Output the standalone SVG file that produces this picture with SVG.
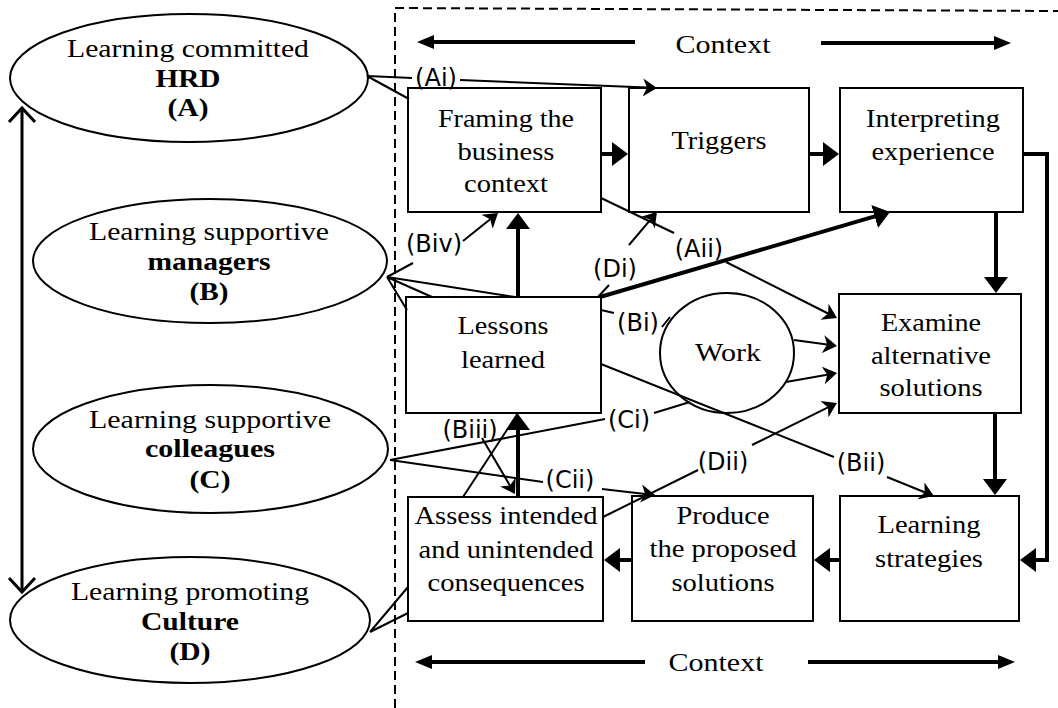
<svg xmlns="http://www.w3.org/2000/svg" width="1058" height="708" viewBox="0 0 1058 708">
<style>
.box{fill:#fff;stroke:#000;stroke-width:2}
.ell{fill:#fff;stroke:#000;stroke-width:2}
.t{font-family:"Liberation Serif","Times New Roman",serif;font-size:26px;fill:#000;text-anchor:middle}
.b{font-weight:bold}
.lb{font-family:"DejaVu Sans","Liberation Sans",sans-serif;font-size:24px;fill:#000;text-anchor:middle}
.thin{fill:none;stroke:#000;stroke-width:2}
.thick{fill:none;stroke:#000;stroke-width:4}
.ah{marker-end:url(#stealth)}
.th{marker-end:url(#tri)}
</style>
<defs>
<marker id="stealth" viewBox="0 -10 16 20" markerWidth="16" markerHeight="20" refX="4" refY="0" orient="auto" markerUnits="userSpaceOnUse"><path d="M0,-9 L14,0 L0,9 L4,0 z" fill="#000"/></marker>
<marker id="tri" viewBox="0 -13 17 26" markerWidth="17" markerHeight="26" refX="1" refY="0" orient="auto" markerUnits="userSpaceOnUse"><path d="M0,-12 L16,0 L0,12 z" fill="#000"/></marker>
<marker id="ctx" viewBox="0 -8 18 16" markerWidth="18" markerHeight="16" refX="1" refY="0" orient="auto" markerUnits="userSpaceOnUse"><path d="M0,-7 L17,0 L0,7 z" fill="#000"/></marker>
<marker id="chev" viewBox="-17 -16 20 32" markerWidth="20" markerHeight="32" refX="0" refY="0" orient="auto-start-reverse" markerUnits="userSpaceOnUse"><path d="M-14,-13 L0,0 L-14,13" fill="none" stroke="#000" stroke-width="3"/></marker>
</defs>
<rect width="1058" height="708" fill="#fff"/>

<g id="context-frame">
<path d="M395,708 L395,8 L1058,11" fill="none" stroke="#000" stroke-width="2" stroke-dasharray="9,5"/>
<path d="M635,42 H433" class="thick" marker-end="url(#ctx)"/>
<path d="M821,43 H995" class="thick" marker-end="url(#ctx)"/>
<text class="t" x="723" y="53" textLength="95" lengthAdjust="spacingAndGlyphs">Context</text>
<path d="M645,662 H431" class="thick" marker-end="url(#ctx)"/>
<path d="M808,662 H999" class="thick" marker-end="url(#ctx)"/>
<text class="t" x="716" y="671" textLength="95" lengthAdjust="spacingAndGlyphs">Context</text>
</g>

<g id="hrd">
<ellipse class="ell" cx="189" cy="78" rx="179" ry="64"/>
<text class="t" x="188" y="57" textLength="242" lengthAdjust="spacingAndGlyphs">Learning committed</text>
<text class="t b" x="188" y="87" textLength="65" lengthAdjust="spacingAndGlyphs">HRD</text>
<text class="t b" x="188" y="116" textLength="41" lengthAdjust="spacingAndGlyphs">(A)</text>
</g>
<g id="managers">
<ellipse class="ell" cx="210" cy="261" rx="177" ry="62"/>
<text class="t" x="209" y="240" textLength="240" lengthAdjust="spacingAndGlyphs">Learning supportive</text>
<text class="t b" x="209" y="270" textLength="123" lengthAdjust="spacingAndGlyphs">managers</text>
<text class="t b" x="209" y="300" textLength="39" lengthAdjust="spacingAndGlyphs">(B)</text>
</g>
<g id="colleagues">
<ellipse class="ell" cx="210.5" cy="449" rx="177.5" ry="64"/>
<text class="t" x="210" y="428" textLength="242" lengthAdjust="spacingAndGlyphs">Learning supportive</text>
<text class="t b" x="210" y="457" textLength="130" lengthAdjust="spacingAndGlyphs">colleagues</text>
<text class="t b" x="210" y="488" textLength="41" lengthAdjust="spacingAndGlyphs">(C)</text>
</g>
<g id="culture">
<ellipse class="ell" cx="190" cy="620" rx="180" ry="63"/>
<text class="t" x="190" y="600" textLength="238" lengthAdjust="spacingAndGlyphs">Learning promoting</text>
<text class="t b" x="190" y="630" textLength="98" lengthAdjust="spacingAndGlyphs">Culture</text>
<text class="t b" x="190" y="660" textLength="41" lengthAdjust="spacingAndGlyphs">(D)</text>
</g>

<g id="framing">
<rect class="box" x="408" y="88" width="193" height="124"/>
<text class="t" x="506" y="127" textLength="136" lengthAdjust="spacingAndGlyphs">Framing the</text>
<text class="t" x="506" y="159.5" textLength="97" lengthAdjust="spacingAndGlyphs">business</text>
<text class="t" x="506" y="192" textLength="84" lengthAdjust="spacingAndGlyphs">context</text>
</g>
<g id="triggers">
<rect class="box" x="629" y="88" width="180" height="124"/>
<text class="t" x="719" y="149" textLength="95" lengthAdjust="spacingAndGlyphs">Triggers</text>
</g>
<g id="interpreting">
<rect class="box" x="840" y="88" width="183" height="124"/>
<text class="t" x="933" y="127" textLength="134" lengthAdjust="spacingAndGlyphs">Interpreting</text>
<text class="t" x="933" y="159.5" textLength="123" lengthAdjust="spacingAndGlyphs">experience</text>
</g>
<g id="lessons">
<rect class="box" x="406" y="297" width="195" height="116"/>
<text class="t" x="503" y="334" textLength="91" lengthAdjust="spacingAndGlyphs">Lessons</text>
<text class="t" x="503" y="368" textLength="84" lengthAdjust="spacingAndGlyphs">learned</text>
</g>
<g id="work">
<ellipse class="ell" cx="727" cy="353" rx="67" ry="60"/>
<text class="t" x="728" y="361" textLength="66" lengthAdjust="spacingAndGlyphs">Work</text>
</g>
<g id="examine">
<rect class="box" x="839" y="294" width="182" height="119"/>
<text class="t" x="931" y="331" textLength="100" lengthAdjust="spacingAndGlyphs">Examine</text>
<text class="t" x="931" y="364" textLength="120" lengthAdjust="spacingAndGlyphs">alternative</text>
<text class="t" x="931" y="396" textLength="103" lengthAdjust="spacingAndGlyphs">solutions</text>
</g>
<g id="assess">
<rect class="box" x="408" y="497" width="195" height="124"/>
<text class="t" x="506" y="524" textLength="183" lengthAdjust="spacingAndGlyphs">Assess intended</text>
<text class="t" x="506" y="558" textLength="175" lengthAdjust="spacingAndGlyphs">and unintended</text>
<text class="t" x="506" y="591" textLength="157" lengthAdjust="spacingAndGlyphs">consequences</text>
</g>
<g id="produce">
<rect class="box" x="632" y="496" width="181" height="125"/>
<text class="t" x="723" y="524" textLength="93" lengthAdjust="spacingAndGlyphs">Produce</text>
<text class="t" x="723" y="557" textLength="147" lengthAdjust="spacingAndGlyphs">the proposed</text>
<text class="t" x="723" y="591" textLength="103" lengthAdjust="spacingAndGlyphs">solutions</text>
</g>
<g id="strategies">
<rect class="box" x="840" y="496" width="179" height="125"/>
<text class="t" x="929" y="533" textLength="103" lengthAdjust="spacingAndGlyphs">Learning</text>
<text class="t" x="929" y="567" textLength="108" lengthAdjust="spacingAndGlyphs">strategies</text>
</g>

<g id="connectors">
<path d="M22,108 V592" fill="none" stroke="#000" stroke-width="3" marker-start="url(#chev)" marker-end="url(#chev)"/>
<path class="thick th" d="M601,154 H613"/>
<path class="thick th" d="M809,154 H824"/>
<path class="thick th" d="M1023,154 H1047 V560 H1035"/>
<path class="thick th" d="M996,212 V278"/>
<path class="thick th" d="M995,413 V480"/>
<path class="thick th" d="M840,560 H829"/>
<path class="thick th" d="M632,560 H619"/>
<path class="thick th" d="M518,297 V228"/>
<path class="thick th" d="M518,497 V429"/>
<path class="thick th" d="M600,297 L875.6,216.2"/>

<path class="thin" d="M367,76 L412,78"/>
<path class="thin ah" d="M460,80 L647,87.6"/>
<path class="thin" d="M367,76 L409,99"/>
<path class="thin" d="M387,277 L413,263"/>
<path class="thin ah" d="M463,241 L490.2,219.2"/>
<path class="thin" d="M387,277 L432,297 M387,277 L515,297 M387,277 L407,310"/>
<path class="thin" d="M601,198 L674,233"/>
<path class="thin ah" d="M726,262 L828.1,313.5"/>
<path class="thin" d="M598,297 L609,285"/>
<path class="thin ah" d="M629,245 L650.5,219.6"/>
<path class="thin" d="M601,310 L614,313 M662,327 L670,317"/>
<path class="thin" d="M601,364 L834,457"/>
<path class="thin ah" d="M887,477 L924.7,492.3"/>
<path class="thin ah" d="M794,340 L827.1,344.6"/>
<path class="thin ah" d="M786,382 L827.2,374.7"/>
<path class="thin" d="M390,460 L605,419 M654,413 L690,402"/>
<path class="thin" d="M390,460 L543,482"/>
<path class="thin ah" d="M602,489 L645.1,493.9"/>
<path class="thin ah" d="M482,438 L509.9,485.4"/>
<path class="thin" d="M463,497 L518,413"/>
<path class="thin" d="M603,517 L698,470"/>
<path class="thin ah" d="M752,445 L828,407.4"/>
<path class="thin" d="M408,587 L370,632 M408,613 L370,632"/>
</g>

<g id="labels">
<text class="lb" x="436" y="86">(Ai)</text>
<text class="lb" x="699" y="257">(Aii)</text>
<text class="lb" x="434" y="252">(Biv)</text>
<text class="lb" x="615" y="277">(Di)</text>
<text class="lb" x="638" y="331" font-size="26">(Bi)</text>
<text class="lb" x="629" y="428">(Ci)</text>
<text class="lb" x="570" y="488">(Cii)</text>
<text class="lb" x="470" y="438">(Biii)</text>
<text class="lb" x="723" y="470">(Dii)</text>
<text class="lb" x="861" y="471">(Bii)</text>
</g>
</svg>
